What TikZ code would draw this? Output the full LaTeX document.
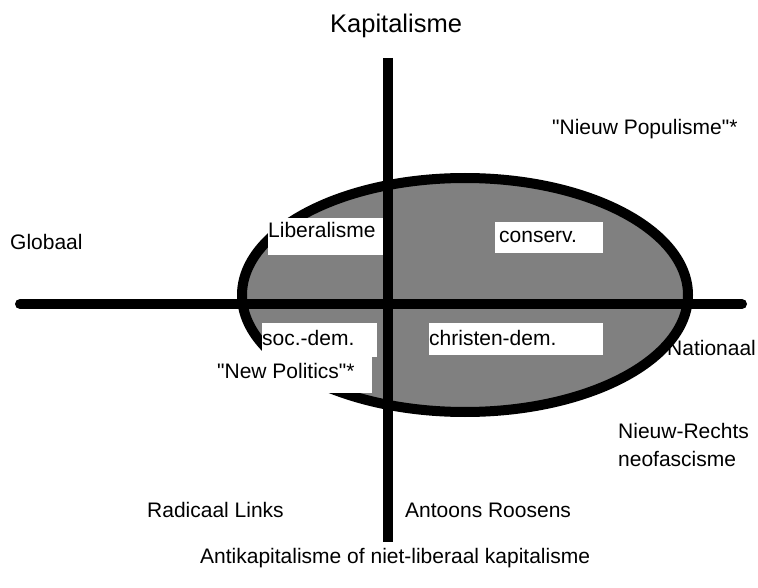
\documentclass[tikz,border=0pt]{standalone}
\usepackage{fontspec}
\setmainfont{Liberation Sans}
\begin{document}
\begin{tikzpicture}[x=1pt,y=-1pt,
    lbl/.style={anchor=base west,inner sep=0pt,font=\fontsize{21}{26}\selectfont},
    wbox/.style={fill=white},
    axisline/.style={line width=10pt}]
    \useasboundingbox (0,0) rectangle (758,588);

    % label under the outline
    \node[lbl] (nat) at (667,355) {Nationaal};

    % the ellipse
    \draw[line width=10pt,fill=gray] (465,295) ellipse [x radius=223pt, y radius=117pt];

    % white boxes
    \fill[wbox] (268,218) rectangle (383,255);
    \fill[wbox] (495,222) rectangle (603,253);
    \fill[wbox] (262,323) rectangle (377,357);
    \fill[wbox] (429,323) rectangle (603,355);
    \fill[wbox] (215,357) rectangle (372,393);

    % axes
    \coordinate (top) at (388,58);
    \coordinate (bot) at (388,542);
    \coordinate (left) at (20,304);
    \coordinate (right) at (742,304);
    \draw[axisline] (top) -- (bot);
    \draw[axisline,line cap=round] (left) -- (right);

    % labels
    \node[lbl,font=\fontsize{25.5}{30}\selectfont] (kap) at (330,33) {Kapitalisme};
    \node[lbl] (glob) at (10,250) {Globaal};
    \node[lbl] (pop) at (552,135) {\textquotedbl Nieuw Populisme\textquotedbl*};
    \node[lbl] (lib) at (268,238) {Liberalisme};
    \node[lbl] (cons) at (499,243) {conserv.};
    \node[lbl] (socdem) at (262,345) {soc.-dem.};
    \node[lbl] (chrdem) at (429,345) {christen-dem.};
    \node[lbl] (newpol) at (217,378) {\textquotedbl New Politics\textquotedbl*};
    \node[lbl] (rechts) at (618,438) {Nieuw-Rechts};
    \node[lbl] (neofas) at (618,466) {neofascisme};
    \node[lbl] (radl) at (147,517) {Radicaal Links};
    \node[lbl] (roos) at (405,517) {Antoons Roosens};
    \node[lbl] (antikap) at (200,563) {Antikapitalisme of niet-liberaal kapitalisme};
\end{tikzpicture}
\end{document}
